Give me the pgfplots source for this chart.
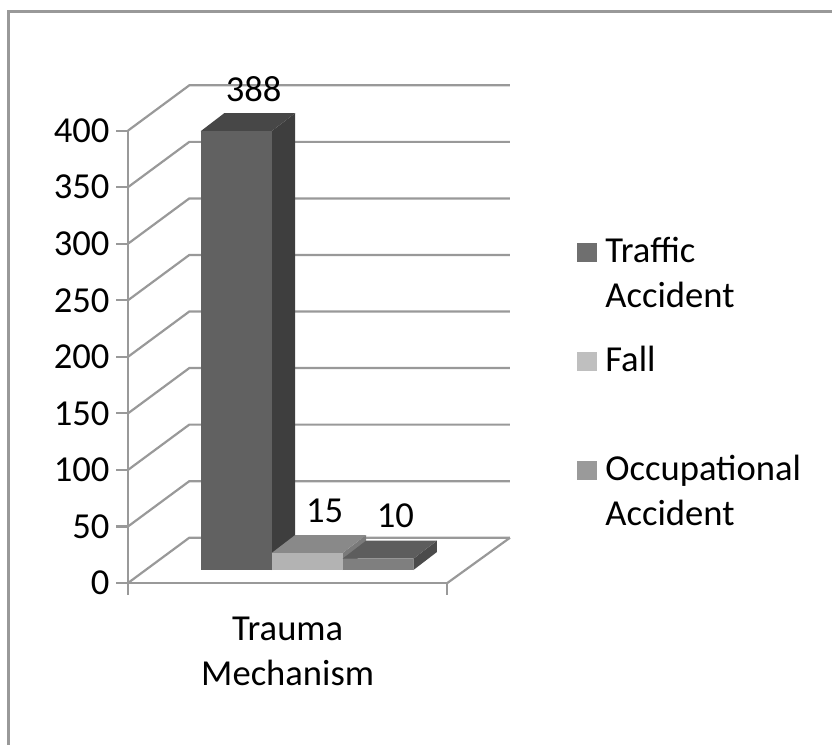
\documentclass[border=0pt]{standalone}
\usepackage{fontspec}
\setmainfont{Carlito}
\usepackage{pgfplots}
\pgfplotsset{compat=1.18}
\definecolor{gridc}{HTML}{999999}
\definecolor{trF}{HTML}{616161}
\definecolor{trS}{HTML}{3E3E3E}
\definecolor{trT}{HTML}{474747}
\definecolor{faF}{HTML}{B3B3B3}
\definecolor{faS}{HTML}{7A7A7A}
\definecolor{faT}{HTML}{898989}
\definecolor{ocF}{HTML}{7F7F7F}
\definecolor{ocS}{HTML}{4B4B4B}
\definecolor{ocT}{HTML}{5D5D5D}
\definecolor{trL}{HTML}{6F6F6F}
\definecolor{faL}{HTML}{BFBFBF}
\definecolor{ocL}{HTML}{9A9A9A}
\pgfplotsset{/pgf/number format/assume math mode=true}
\begin{document}
\begin{tikzpicture}[font=\fontsize{18.3}{22.5}\selectfont]
% ---------- front plane: value axis, floor, back wall ----------
\begin{axis}[
  name=main, at={(0pt,0pt)}, anchor=south west,
  scale only axis, width=159.65pt, height=226.2pt,
  xmin=128, xmax=447.3, ymin=0, ymax=400,
  clip=false, no markers,
  axis x line*=bottom, axis y line*=left,
  axis line style={gridc, line width=1.1pt},
  tick style={gridc, line width=1.1pt},
  tick align=outside, major tick length=5.75pt,
  ytick={0,50,...,400},
  xtick={128,447.3}, xticklabels={},
  extra x ticks={287.7}, extra x tick labels={Trauma\\Mechanism},
  extra x tick style={major tick length=0pt,
     xticklabel style={align=center, yshift=-13.5pt}},
  yticklabel style={text=black},
]
\addplot[gridc, line width=1.1pt, forget plot] coordinates {(128,0) (189.3,40.05) (510,40.05)};
\addplot[gridc, line width=1.1pt, forget plot] coordinates {(128,50) (189.3,90.05) (510,90.05)};
\addplot[gridc, line width=1.1pt, forget plot] coordinates {(128,100) (189.3,140.05) (510,140.05)};
\addplot[gridc, line width=1.1pt, forget plot] coordinates {(128,150) (189.3,190.05) (510,190.05)};
\addplot[gridc, line width=1.1pt, forget plot] coordinates {(128,200) (189.3,240.05) (510,240.05)};
\addplot[gridc, line width=1.1pt, forget plot] coordinates {(128,250) (189.3,290.05) (510,290.05)};
\addplot[gridc, line width=1.1pt, forget plot] coordinates {(128,300) (189.3,340.05) (510,340.05)};
\addplot[gridc, line width=1.1pt, forget plot] coordinates {(128,350) (189.3,390.05) (510,390.05)};
\addplot[gridc, line width=1.1pt, forget plot] coordinates {(128,400) (189.3,440.05) (510,440.05)};
\addplot[gridc, line width=1.1pt, forget plot] coordinates {(447.3,0) (510,40.05)};
\coordinate (A) at (axis cs:0,-142.35);
\coordinate (B) at (axis cs:832,515.5);
\coordinate (F) at (axis cs:8.7,505.5);
\coordinate (FB) at (axis cs:8.7,-170);
\coordinate (FR) at (axis cs:860,505.5);
\end{axis}
% ---------- bars (set back into the depth of the floor) ----------
\begin{axis}[
  at={(8.8pt,6.5pt)}, anchor=south west,
  scale only axis, width=159.65pt, height=226.2pt,
  xmin=128, xmax=447.3, ymin=0, ymax=400,
  clip=false, hide axis, no markers,
  legend style={at={(axis cs:559.4,297.1)}, anchor=north west,
     draw=none, fill=none, inner sep=0pt, row sep=37pt, column sep=2pt,
     cells={anchor=base west, inner sep=0pt, text height=12pt, text depth=30pt}},
  nodes near coords style={anchor=center, yshift=21.25pt, text=black},
]
% Traffic Accident
\addplot[fill=trS, draw=none, forget plot] coordinates {(254.0,0) (277.5,15.9) (277.5,403.9) (254.0,388)} --cycle;
\addplot[fill=trT, draw=none, forget plot] coordinates {(183.1,388) (254.0,388) (277.5,403.9) (206.6,403.9)} --cycle;
\addplot[ybar, bar width=35.45pt, bar shift=-35.45pt, fill=trF, draw=none,
  nodes near coords, every node near coord/.append style={xshift=-26.7pt},
  legend image code/.code={\fill[trL] (0pt,0pt) rectangle (10pt,9.75pt);}]
  coordinates {(289.45,388)};
\addlegendentry{\vtop{\hbox{Traffic}\hbox{Accident}}}
% Fall
\addplot[fill=faS, draw=none, forget plot] coordinates {(324.9,0) (348.4,15.9) (348.4,30.9) (324.9,15)} --cycle;
\addplot[fill=faT, draw=none, forget plot] coordinates {(254.0,15) (324.9,15) (348.4,30.9) (277.5,30.9)} --cycle;
\addplot[ybar, bar width=35.45pt, bar shift=0pt, fill=faF, draw=none,
  nodes near coords, every node near coord/.append style={xshift=8.75pt},
  legend image code/.code={\fill[faL] (0pt,0pt) rectangle (10pt,9.75pt);}]
  coordinates {(289.45,15)};
\addlegendentry{Fall}
% Occupational Accident
\addplot[fill=ocS, draw=none, forget plot] coordinates {(395.8,0) (419.3,15.9) (419.3,25.9) (395.8,10)} --cycle;
\addplot[fill=ocT, draw=none, forget plot] coordinates {(324.9,10) (395.8,10) (419.3,25.9) (348.4,25.9)} --cycle;
\addplot[ybar, bar width=35.45pt, bar shift=35.45pt, fill=ocF, draw=none,
  nodes near coords, every node near coord/.append style={xshift=44.2pt},
  legend image code/.code={\fill[ocL] (0pt,0pt) rectangle (10pt,9.75pt);}]
  coordinates {(289.45,10)};
\addlegendentry{\vtop{\hbox{Occupational}\hbox{Accident}}}
\end{axis}
\pgfresetboundingbox
\path (A) rectangle (B);
\draw[overlay, gridc, line width=1.5pt] (FB) -- (F) -- (FR);
\end{tikzpicture}
\end{document}
